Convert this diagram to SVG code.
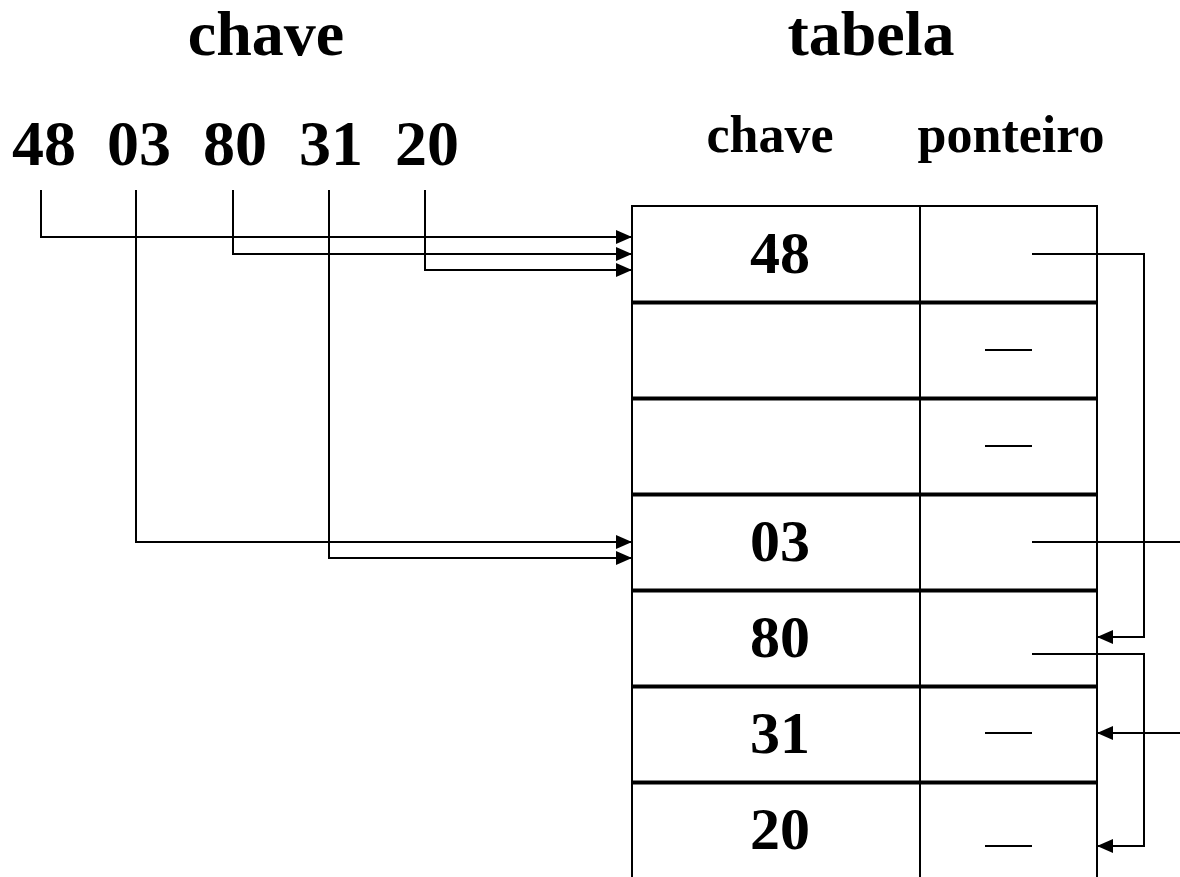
<svg xmlns="http://www.w3.org/2000/svg" width="1180" height="877" viewBox="0 0 1180 877">
  <style>
    text { font-family: "Liberation Serif", "Times New Roman", serif; font-weight: bold; fill: #000; text-anchor: middle; }
    .title { font-size: 64px; }
    .key { font-size: 64px; }
    .head { font-size: 52px; }
    .cell { font-size: 60px; }
    .grid { stroke: #000; stroke-width: 2; fill: none; }
    .sep { stroke: #000; stroke-width: 4; fill: none; }
    .link { stroke: #000; stroke-width: 2; fill: none; }
    .nil { stroke: #000; stroke-width: 2; }
  </style>
  <defs>
    <marker id="arrow" markerUnits="userSpaceOnUse" markerWidth="18" markerHeight="16" refX="16" refY="7" orient="auto">
      <path d="M0,0 L16,7 L0,14 Z" fill="#000"/>
    </marker>
  </defs>
  <rect width="1180" height="877" fill="#fff"/>

  <!-- titles -->
  <text class="title" x="266" y="55">chave</text>
  <text class="title" x="871" y="55">tabela</text>

  <!-- input key sequence -->
  <g id="keys">
    <text class="key" x="44" y="165">48</text>
    <text class="key" x="139" y="165">03</text>
    <text class="key" x="235" y="165">80</text>
    <text class="key" x="331" y="165">31</text>
    <text class="key" x="427" y="165">20</text>
  </g>

  <!-- table column headers -->
  <text class="head" x="770" y="152">chave</text>
  <text class="head" x="1011" y="152">ponteiro</text>

  <!-- hash table -->
  <g id="table">
    <line class="grid" x1="632" y1="206" x2="1097" y2="206"/>
    <line class="grid" x1="632" y1="205" x2="632" y2="877"/>
    <line class="grid" x1="920" y1="205" x2="920" y2="877"/>
    <line class="grid" x1="1097" y1="205" x2="1097" y2="877"/>
    <line class="sep" x1="632" y1="302.5" x2="1097" y2="302.5"/>
    <line class="sep" x1="632" y1="398.5" x2="1097" y2="398.5"/>
    <line class="sep" x1="632" y1="494.5" x2="1097" y2="494.5"/>
    <line class="sep" x1="632" y1="590.5" x2="1097" y2="590.5"/>
    <line class="sep" x1="632" y1="686.5" x2="1097" y2="686.5"/>
    <line class="sep" x1="632" y1="782.5" x2="1097" y2="782.5"/>
  </g>
  <g id="row-48"><text class="cell" x="780" y="273">48</text></g>
  <g id="row-1"><line class="nil" x1="985" y1="350" x2="1032" y2="350"/></g>
  <g id="row-2"><line class="nil" x1="985" y1="446" x2="1032" y2="446"/></g>
  <g id="row-03"><text class="cell" x="780" y="561">03</text></g>
  <g id="row-80"><text class="cell" x="780" y="657">80</text></g>
  <g id="row-31"><text class="cell" x="780" y="753">31</text><line class="nil" x1="985" y1="733" x2="1032" y2="733"/></g>
  <g id="row-20"><text class="cell" x="780" y="849">20</text><line class="nil" x1="985" y1="846" x2="1032" y2="846"/></g>

  <!-- connectors -->
  <g id="connectors">
    <!-- keys hashed to table rows -->
    <polyline class="link" points="41,190 41,237 632,237" marker-end="url(#arrow)"/>
    <polyline class="link" points="233,190 233,254 632,254" marker-end="url(#arrow)"/>
    <polyline class="link" points="425,190 425,270 632,270" marker-end="url(#arrow)"/>
    <polyline class="link" points="136,190 136,542 632,542" marker-end="url(#arrow)"/>
    <polyline class="link" points="329,190 329,558 632,558" marker-end="url(#arrow)"/>
    <!-- collision chains -->
    <polyline class="link" points="1032,254 1144,254 1144,637 1097,637" marker-end="url(#arrow)"/>
    <polyline class="link" points="1032,654 1144,654 1144,846 1097,846" marker-end="url(#arrow)"/>
    <line class="link" x1="1032" y1="542" x2="1180" y2="542"/>
    <line class="link" x1="1180" y1="733" x2="1097" y2="733" marker-end="url(#arrow)"/>
  </g>
</svg>
